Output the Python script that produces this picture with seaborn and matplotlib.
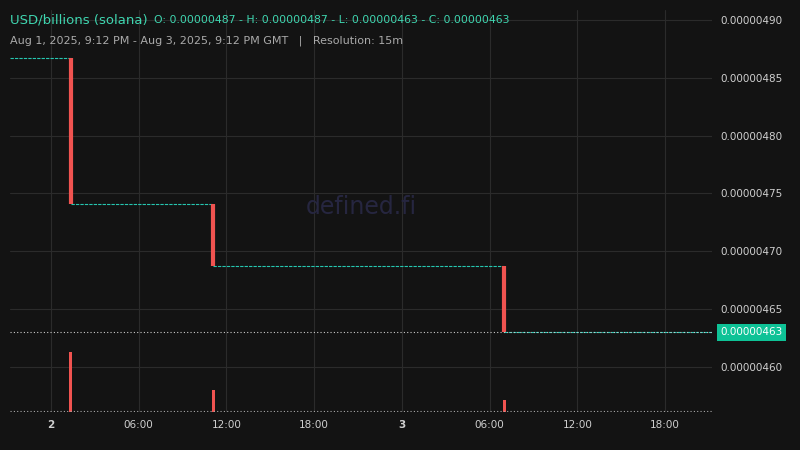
import matplotlib
matplotlib.use("Agg")
import matplotlib.pyplot as plt
import seaborn as sns
import pandas as pd

# hours relative to Aug 2 00:00 GMT; prices in units of 1e-8
step_start = [-2.8, 1.35, 11.1, 31.0]
step_end = [1.35, 11.1, 31.0, 45.2]
step_level = [486.7, 474.1, 468.7, 463.0]
drop_time = [1.35, 11.1, 31.0]
drop_high = [486.7, 474.1, 468.7]
drop_low = [474.1, 468.7, 463.0]
vol_time = [1.35, 11.1, 31.0]
vol_value = [1.0, 0.37, 0.2]
last_price = 463.0
tick_hours = [0, 6, 12, 18, 24, 30, 36, 42]
tick_labels = ["2", "06:00", "12:00", "18:00", "3", "06:00", "12:00", "18:00"]
y_ticks = [460, 465, 470, 475, 480, 485, 490]

sns.set_theme(style="dark")
bg = "#131313"
fig = plt.figure(figsize=(8, 4.5), dpi=100, facecolor=bg)
ax = fig.add_axes([0.0125, 0.0844, 0.8775, 0.8933])
ax.set_facecolor(bg)
for s in ax.spines.values():
    s.set_visible(False)
ax.grid(True, color="#2b2b2b", lw=0.8)
ax.set_axisbelow(True)

vax = ax.twinx()
vax.set_ylim(0, 6.7)
vax.bar(vol_time, vol_value, width=0.18, color="#f05350", edgecolor="none", linewidth=0)
vax.axhline(0.02, color="#aaaaaa", lw=0.8, ls=(0, (1, 2)))
vax.set_yticks([]); vax.grid(False)
for s in vax.spines.values():
    s.set_visible(False)

teal = "#26c6b0"
for i in range(len(step_start)):
    df = pd.DataFrame({"t": [step_start[i], step_end[i]], "p": [step_level[i]] * 2})
    sns.lineplot(data=df, x="t", y="p", ax=ax, color=teal, lw=0.8, linestyle=(0, (3, 1)))
ax.vlines(drop_time, drop_low, drop_high, color="#f05350", lw=3)
ax.axhline(last_price, color="#cccccc", lw=0.8, ls=(0, (1, 2)))

ax.set_xlim(-2.8, 45.2)
ax.set_ylim(456.1, 490.86)
ax.set_yticks(y_ticks)
ax.set_yticklabels([f"{v/1e8:.8f}" for v in y_ticks], color="#cfcfcf", fontsize=7.5)
ax.yaxis.tick_right()
ax.tick_params(axis="y", left=False, labelleft=False, right=False, labelright=True)
ax.set_xticks(tick_hours)
ax.set_xticklabels(tick_labels, color="#cfcfcf", fontsize=7.5)
for lab in ax.get_xticklabels():
    if lab.get_text() in ("2", "3"):
        lab.set_fontweight("bold")
ax.tick_params(length=0, pad=6)
ax.set_xlabel(""); ax.set_ylabel("")
ax.text(0.5, 0.51, "defined.fi", transform=ax.transAxes, ha="center", va="center",
        color="#262640", fontsize=17)
ax.text(1.012, (last_price - 456.1) / (490.86 - 456.1), f"{last_price/1e8:.8f}",
        transform=ax.transAxes, ha="left", va="center", color="white", fontsize=7.5,
        bbox=dict(boxstyle="square,pad=0.35", fc="#0ec296", ec="none"))

fig.text(0.0125, 0.955, "USD/billions (solana)", color="#3fd6b0", fontsize=9.5, va="center")
fig.text(0.193, 0.955, "O: 0.00000487 - H: 0.00000487 - L: 0.00000463 - C: 0.00000463",
         color="#3fd6b0", fontsize=7.8, va="center")
fig.text(0.0125, 0.91, "Aug 1, 2025, 9:12 PM - Aug 3, 2025, 9:12 PM GMT   |   Resolution: 15m",
         color="#aaaaaa", fontsize=8, va="center")
fig.savefig("out.png", dpi=100, facecolor=bg)
